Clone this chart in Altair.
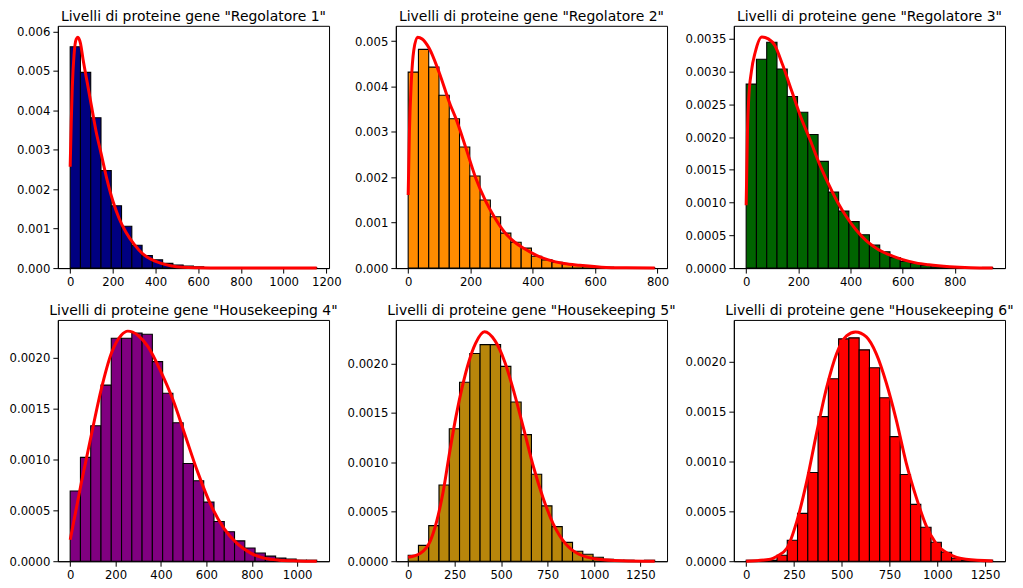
import altair as alt
import numpy as np
import pandas as pd

titles = [
    'Livelli di proteine gene "Regolatore 1"',
    'Livelli di proteine gene "Regolatore 2"',
    'Livelli di proteine gene "Regolatore 3"',
    'Livelli di proteine gene "Housekeeping 4"',
    'Livelli di proteine gene "Housekeeping 5"',
    'Livelli di proteine gene "Housekeeping 6"',
]
bar_colors = ["#000080", "#ff8c00", "#006400", "#800080", "#b8860b", "#ff0000"]
data_max = [1155, 791, 945, 1086, 1327, 1290]
n_bins = 24

dens_1 = [0.00561, 0.00496, 0.00381, 0.00247, 0.00158, 0.00106, 0.00058, 0.00032,
          0.00021, 0.00012, 0.00008, 0.00005, 0.00003, 0.00001, 0.00001, 0.0,
          0.00001, 0.0, 0.0, 0.0, 0.0, 0.0, 0.0, 0.00001]
dens_2 = [0.00432, 0.00482, 0.00443, 0.00381, 0.00329, 0.00267, 0.00203, 0.00150,
          0.00113, 0.00077, 0.00057, 0.00044, 0.00026, 0.00018, 0.00013, 0.00009,
          0.00006, 0.00004, 0.00003, 0.00002, 0.00001, 0.00001, 0.0, 0.00001]
dens_3 = [0.00281, 0.00319, 0.00345, 0.00304, 0.00262, 0.00238, 0.00204, 0.00163,
          0.00116, 0.00087, 0.00071, 0.00051, 0.00035, 0.00025, 0.00016, 0.00010,
          0.00007, 0.00004, 0.00002, 0.00001, 0.00001, 0.0, 0.0, 0.00001]
dens_4 = [0.00069, 0.00102, 0.00133, 0.00173, 0.00219, 0.00219, 0.00224, 0.00223,
          0.00196, 0.00165, 0.00136, 0.00096, 0.00079, 0.00058, 0.00039, 0.00029,
          0.00020, 0.00013, 0.00008, 0.00005, 0.00003, 0.00002, 0.00001, 0.00001]
dens_5 = [0.00006, 0.00016, 0.00036, 0.00077, 0.00134, 0.00181, 0.00210, 0.00219,
          0.00219, 0.00197, 0.00161, 0.00128, 0.00088, 0.00056, 0.00035, 0.00019,
          0.00010, 0.00007, 0.00004, 0.00002, 0.00001, 0.00001, 0.0, 0.00001]
dens_6 = [0.00001, 0.0, 0.00001, 0.00006, 0.00021, 0.00048, 0.00089, 0.00145,
          0.00183, 0.00223, 0.00224, 0.00212, 0.00194, 0.00164, 0.00125, 0.00087,
          0.00057, 0.00034, 0.00019, 0.00009, 0.00003, 0.00001, 0.0, 0.00001]

curve_x_1 = [0, 5, 10, 18, 28, 36, 48, 60, 80, 100, 120, 145, 170, 200, 230, 260,
             300, 340, 380, 420, 470, 530, 600, 700, 800, 1000, 1155]
curve_y_1 = [0.00257, 0.0037, 0.0046, 0.0054, 0.0058, 0.00585, 0.0057, 0.0053,
             0.0047, 0.0041, 0.0035, 0.0029, 0.0023, 0.0017, 0.00125, 0.00092,
             0.0006, 0.00036, 0.00022, 0.00013, 0.00006, 0.00002, 0.000008,
             0.000002, 0.0, 0.0, 0.0]
curve_x_2 = [0, 4, 10, 18, 30, 45, 67, 100, 135, 153, 185, 217, 249, 276, 308, 340,
             372, 415, 450, 500, 550, 620, 700, 791]
curve_y_2 = [0.00161, 0.0030, 0.0041, 0.0048, 0.00509, 0.00505, 0.00485, 0.0043,
             0.0036, 0.0033, 0.00265, 0.00198, 0.00147, 0.00113, 0.0008, 0.00058,
             0.00043, 0.00027, 0.00018, 0.0001, 0.00006, 0.00002, 0.000005, 0.000001]
curve_x_3 = [0, 5, 10, 20, 35, 60, 85, 110, 140, 175, 210, 245, 280, 315, 350, 385,
             420, 460, 500, 550, 600, 650, 700, 780, 860, 945]
curve_y_3 = [0.00096, 0.0021, 0.0026, 0.0030, 0.0033, 0.00353, 0.0035, 0.0034,
             0.0031, 0.0027, 0.0023, 0.00196, 0.0016, 0.00129, 0.00101, 0.00078,
             0.00059, 0.00042, 0.0003, 0.0002, 0.00013, 0.00008, 0.00005, 0.00002,
             0.000005, 0.0]
curve_x_4 = [0, 50, 95, 137, 181, 225, 254, 298, 342, 400, 452, 503, 561, 620, 678,
             737, 795, 854, 920, 1000, 1086]
curve_y_4 = [0.00021, 0.00078, 0.00126, 0.00169, 0.00204, 0.00222, 0.00226, 0.00222,
             0.00211, 0.00186, 0.00159, 0.00126, 0.00088, 0.00055, 0.00032, 0.00017,
             0.00008, 0.00003, 0.00001, 0.000003, 0.0]
curve_x_5 = [0, 66, 118, 153, 188, 223, 258, 292, 327, 362, 411, 467, 519, 571, 623,
             675, 728, 780, 850, 919, 1024, 1150, 1327]
curve_y_5 = [0.00004, 0.00008, 0.0002, 0.0004, 0.0007, 0.0011, 0.00147, 0.00177,
             0.00202, 0.0022, 0.00232, 0.00223, 0.00202, 0.0017, 0.00133, 0.00095,
             0.00063, 0.00038, 0.00017, 0.00007, 0.00002, 0.000005, 0.0]
curve_x_6 = [0, 127, 161, 213, 265, 317, 369, 421, 473, 525, 572, 629, 681, 733, 785,
             837, 890, 941, 993, 1063, 1150, 1290]
curve_y_6 = [0.0, 0.00002, 0.00005, 0.00013, 0.0004, 0.0008, 0.00129, 0.00174,
             0.00208, 0.00226, 0.0023, 0.00225, 0.00208, 0.00179, 0.00142, 0.00099,
             0.00064, 0.00036, 0.00018, 0.00007, 0.00002, 0.000003]

x_ticks = [
    [0, 200, 400, 600, 800, 1000, 1200],
    [0, 200, 400, 600, 800],
    [0, 200, 400, 600, 800],
    [0, 200, 400, 600, 800, 1000],
    [0, 250, 500, 750, 1000, 1250],
    [0, 250, 500, 750, 1000, 1250],
]
y_ticks = [
    [0.0, 0.001, 0.002, 0.003, 0.004, 0.005, 0.006],
    [0.0, 0.001, 0.002, 0.003, 0.004, 0.005],
    [0.0, 0.0005, 0.001, 0.0015, 0.002, 0.0025, 0.003, 0.0035],
    [0.0, 0.0005, 0.001, 0.0015, 0.002],
    [0.0, 0.0005, 0.001, 0.0015, 0.002],
    [0.0, 0.0005, 0.001, 0.0015, 0.002],
]
y_formats = [".3f", ".3f", ".4f", ".4f", ".4f", ".4f"]
y_top = [0.00614, 0.00534, 0.0037, 0.00237, 0.00244, 0.00242]
panel_heights = [243, 243, 243, 242, 242, 242]

dens = [dens_1, dens_2, dens_3, dens_4, dens_5, dens_6]
curves_x = [curve_x_1, curve_x_2, curve_x_3, curve_x_4, curve_x_5, curve_x_6]
curves_y = [curve_y_1, curve_y_2, curve_y_3, curve_y_4, curve_y_5, curve_y_6]


def panel(i):
    edges = np.linspace(0, data_max[i], n_bins + 1)
    bars_df = pd.DataFrame({"x": edges[:-1], "x2": edges[1:], "y": dens[i],
                            "y0": np.zeros(n_bins)})
    curve_df = pd.DataFrame({"x": curves_x[i], "y": curves_y[i]})
    pad = 0.05 * data_max[i]
    xs = alt.Scale(domain=[-pad, data_max[i] + pad], nice=False, zero=False)
    ys = alt.Scale(domain=[0, y_top[i]], nice=False, zero=False)
    xa = alt.Axis(values=x_ticks[i], format="d")
    ya = alt.Axis(values=y_ticks[i], format=y_formats[i])
    bars = alt.Chart(bars_df).mark_rect(
        color=bar_colors[i], stroke="black", strokeWidth=1.1
    ).encode(
        x=alt.X("x:Q", scale=xs, axis=xa, title=None),
        x2="x2:Q",
        y=alt.Y("y:Q", scale=ys, axis=ya, title=None),
        y2="y0:Q",
    )
    line = alt.Chart(curve_df).mark_line(
        color="#ff0000", strokeWidth=3, interpolate="monotone"
    ).encode(
        x=alt.X("x:Q", scale=xs, axis=xa, title=None),
        y=alt.Y("y:Q", scale=ys, axis=ya, title=None),
    )
    return alt.layer(bars, line).properties(
        width=272,
        height=panel_heights[i],
        title=alt.TitleParams(
            text=titles[i], fontSize=14, font="DejaVu Sans", fontWeight="normal",
            color="black", anchor="middle", frame="group", offset=2,
        ),
    )


panels = [panel(i) for i in range(6)]

chart = alt.concat(
    *panels, columns=3, spacing={"row": 52, "column": 67}, bounds="flush"
).resolve_scale(
    x="independent", y="independent"
).configure_view(
    stroke="black", strokeWidth=1
).configure_axis(
    labelFont="DejaVu Sans", labelFontSize=11.7, labelColor="black",
    tickColor="black", domainColor="black", tickSize=5, labelPadding=3,
    grid=False, labelFlush=False, labelOverlap=False, labelBound=False,
).properties(
    padding={"left": 0, "top": 0, "right": 0, "bottom": 0}
)

chart.save("out.html", embed_options={"renderer": "svg", "actions": False})
